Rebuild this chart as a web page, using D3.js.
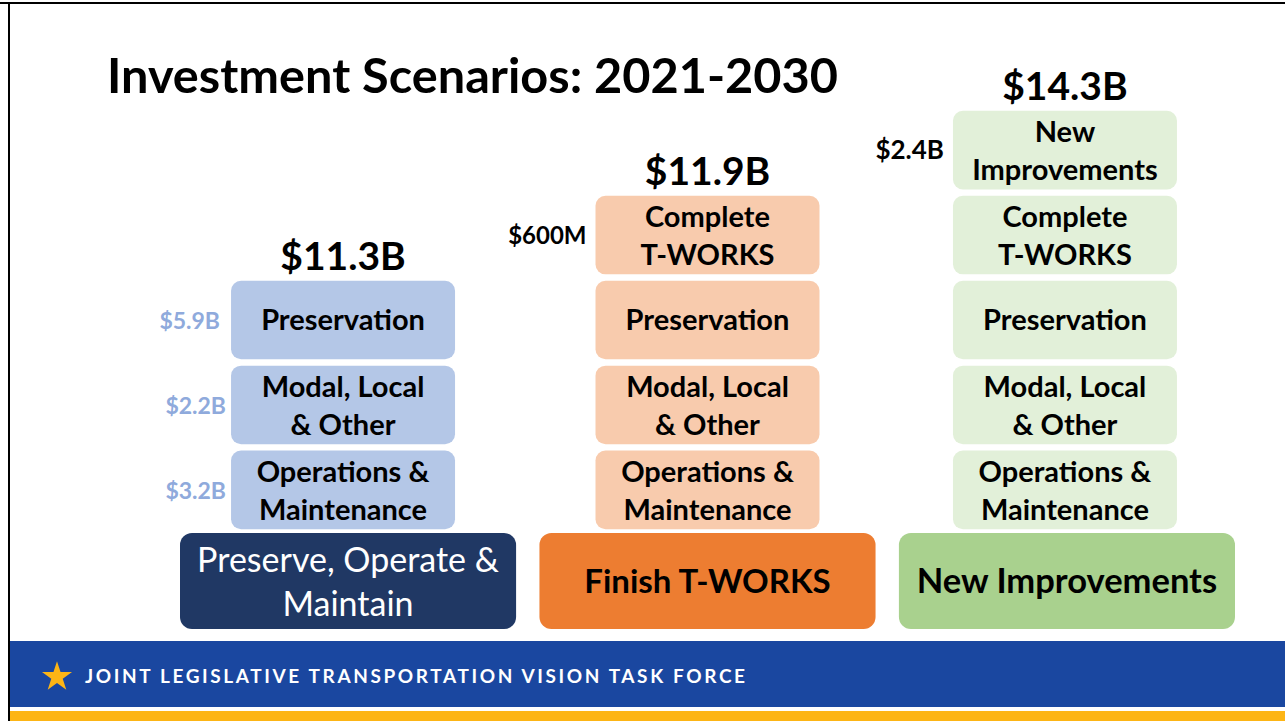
<!DOCTYPE html>
<html><head><meta charset="utf-8">
<script src="https://cdn.jsdelivr.net/npm/d3@7"></script>
<style>body{margin:0;background:#fff;}svg{display:block;font-family:Lato,"Open Sans",sans-serif;}</style>
</head><body>
<svg id="c" width="1285" height="721"></svg>
<script>
// ---- data ----
const scenarios = ["Preserve, Operate & Maintain", "Finish T-WORKS", "New Improvements"];
const totals = ["$11.3B", "$11.9B", "$14.3B"];
const components = ["Operations & Maintenance", "Modal, Local & Other", "Preservation", "Complete T-WORKS", "New Improvements"];
const componentLines = [["Operations &","Maintenance"],["Modal, Local","& Other"],["Preservation"],["Complete","T-WORKS"],["New","Improvements"]];
const levelsPerScenario = [3, 4, 5];
const componentAmounts = ["$3.2B", "$2.2B", "$5.9B", "$600M", "$2.4B"];
const amountShownIn = [0, 0, 0, 1, 2];

const baseColors = ["#203864", "#ed7d31", "#a9d18e"];
const lightColors = ["#b4c7e7", "#f8cbad", "#e2f0d9"];
const baseText = ["#ffffff", "#000000", "#000000"];

const svg = d3.select("#c");

// slide frame
svg.append("rect").attr("x",0).attr("y",0).attr("width",1285).attr("height",721).attr("fill","#fff");
svg.append("line").attr("x1",0).attr("x2",1285).attr("y1",3).attr("y2",3).attr("stroke","#000").attr("stroke-width",2);
svg.append("line").attr("x1",9).attr("x2",9).attr("y1",3).attr("y2",721).attr("stroke","#000").attr("stroke-width",2);

// title
svg.append("text").attr("x",107).attr("y",93).attr("font-size",48).attr("font-weight",700)
  .attr("fill","#000").attr("textLength",731).attr("lengthAdjust","spacingAndGlyphs")
  .text("Investment Scenarios: 2021-2030");

// scales
const x = d3.scaleBand().domain(d3.range(scenarios.length)).range([180,1235]).paddingInner(0.065);
const y = d3.scaleBand().domain(d3.range(components.length)).range([530,110]).paddingInner(0.075).paddingOuter(0.01);
const smallW = 224;

const cols = svg.selectAll("g.col").data(scenarios).join("g").attr("class","col");

cols.each(function(name, i){
  const g = d3.select(this);
  const cx = x(i) + x.bandwidth()/2 - (i===2?2:(i===0?5:0));
  // base box
  g.append("rect").attr("x",x(i)).attr("y",533).attr("width",x.bandwidth()).attr("height",96)
    .attr("rx",12).attr("fill",baseColors[i]);
  const bx = x(i)+x.bandwidth()/2;
  if(i===0){
    const t = g.append("text").attr("text-anchor","middle").attr("fill",baseText[i]).attr("font-size",34).attr("font-weight",400);
    t.append("tspan").attr("x",bx).attr("y",572).text("Preserve, Operate &");
    t.append("tspan").attr("x",bx).attr("y",616).text("Maintain");
  } else {
    g.append("text").attr("x",bx).attr("y",593).attr("text-anchor","middle").attr("fill",baseText[i])
      .attr("font-size",i===1?33:34.5).attr("font-weight",700).text(name);
  }
  // stacked component boxes
  const levels = d3.range(levelsPerScenario[i]);
  levels.forEach(k=>{
    const top = y(k);
    g.append("rect").attr("x",cx-smallW/2).attr("y",top).attr("width",smallW).attr("height",y.bandwidth())
      .attr("rx",10).attr("fill",lightColors[i]);
    const lines = componentLines[k];
    const mid = top + y.bandwidth()/2;
    const t = g.append("text").attr("text-anchor","middle").attr("font-size",29).attr("font-weight",700).attr("fill","#000");
    if(lines.length===1){
      t.append("tspan").attr("x",cx).attr("y",mid+10).text(lines[0]);
    } else {
      t.append("tspan").attr("x",cx).attr("y",mid-8).text(lines[0]);
      t.append("tspan").attr("x",cx).attr("y",mid+30).text(lines[1]);
    }
    if(amountShownIn[k]===i){
      const blue = i===0;
      g.append("text").attr("x",cx-smallW/2 - (blue?(k===2?11:5):9)).attr("y",mid+9)
        .attr("text-anchor","end").attr("font-size",blue?23:(k===4?26:24)).attr("font-weight",700)
        .attr("fill",blue?"#8faadc":"#000").text(componentAmounts[k]);
    }
  });
  // total label
  const topLevel = levelsPerScenario[i]-1;
  g.append("text").attr("x",cx).attr("y",y(topLevel)-11).attr("text-anchor","middle")
    .attr("font-size",39).attr("font-weight",700).attr("fill","#000").text(totals[i]);
});

// footer
svg.append("rect").attr("x",10).attr("y",641).attr("width",1275).attr("height",66).attr("fill","#1a47a0");
svg.append("rect").attr("x",10).attr("y",711).attr("width",1275).attr("height",10).attr("fill","#fdb515");
const star = d3.symbol().type(d3.symbolStar).size(280);
svg.append("path").attr("d",star()).attr("transform","translate(57,677)").attr("fill","#fdb515");
svg.append("text").attr("x",85).attr("y",683).attr("font-size",19).attr("font-weight",700)
  .attr("fill","#fff").attr("textLength",660).attr("lengthAdjust","spacing")
  .text("JOINT LEGISLATIVE TRANSPORTATION VISION TASK FORCE");
</script>
</body></html>
